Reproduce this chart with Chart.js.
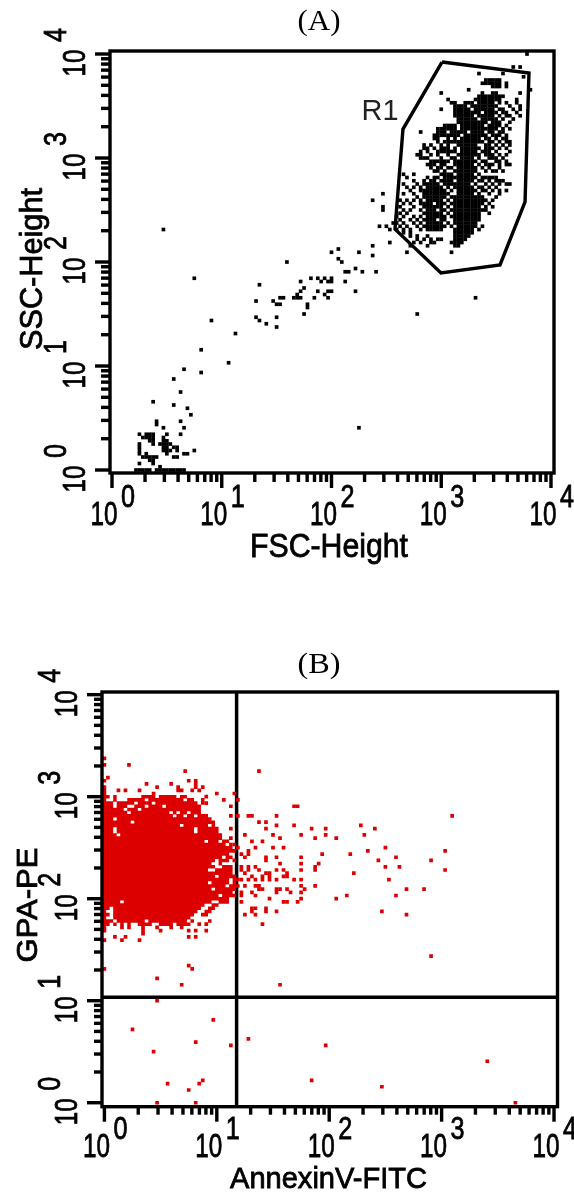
<!DOCTYPE html>
<html>
<head>
<meta charset="utf-8">
<title>Flow cytometry dot plots</title>
<script src="https://cdn.jsdelivr.net/npm/chart.js@4"></script>
<style>
    html, body { margin: 0; padding: 0; background: #fff; }
    body { position: relative; width: 574px; height: 1194px; overflow: hidden; }
    canvas { position: absolute; left: 0; }
    #plotA { top: 0; }
    #plotB { top: 590px; }
</style>
</head>
<body>
<canvas id="plotA" width="574" height="590"></canvas>
<canvas id="plotB" width="574" height="604"></canvas>
<script>
// Tick values shared by both plots
const decades = [1, 10, 100, 1000, 10000];
const exponents = ['0', '1', '2', '3', '4'];
const minorTicks = [2, 3, 4, 5, 6, 7, 8, 9, 20, 30, 40, 50, 60, 70, 80, 90, 200, 300, 400, 500, 600, 700, 800, 900, 2000, 3000, 4000, 5000, 6000, 7000, 8000, 9000];

// The dots sit on the instrument's channel grid: 32 channels per decade
const toValue = ch => Math.pow(10, ch / 32);

// (A) main cluster, one row per SSC channel: [ssc, [fsc, fsc, ...]]
const clusterRowsA = [
    [128, [121]], [124, [117, 119]], [122, [107, 114]], [121, [120]],
    [120, [109, 110, 111, 112, 113]], [119, [108, 109, 110, 111, 112, 113, 115]], [118, [111, 112, 113, 115]],
    [117, [104, 122]], [116, [96, 108, 111, 112, 119]],
    [115, [107, 108, 109, 110, 111, 112, 113, 114]], [114, [98, 106, 107, 108, 109, 110, 111, 112, 113, 118]],
    [113, [99, 100, 103, 104, 105, 107, 108, 109, 110, 111, 113, 115, 118]],
    [112, [100, 101, 102, 103, 105, 106, 107, 108, 109, 110, 111, 112, 116, 119]],
    [111, [96, 100, 101, 102, 103, 104, 106, 107, 108, 109, 110, 111, 113, 114, 117, 119]],
    [110, [100, 101, 102, 103, 104, 105, 106, 107, 109, 110, 111, 112, 114, 115, 118]],
    [109, [100, 101, 102, 103, 104, 105, 107, 108, 109, 110, 111, 113, 115, 116, 119]],
    [108, [101, 102, 103, 104, 105, 106, 108, 109, 110, 111, 112, 114, 117]],
    [107, [101, 102, 103, 104, 105, 106, 107, 108, 109, 111, 112, 113, 116]],
    [106, [97, 98, 99, 100, 102, 103, 104, 105, 106, 107, 108, 110, 111, 112, 113, 115]],
    [105, [95, 96, 97, 98, 99, 100, 102, 103, 104, 105, 106, 107, 108, 109, 110, 111, 112, 114, 116]],
    [104, [90, 95, 96, 97, 99, 100, 101, 102, 103, 105, 106, 107, 108, 110, 111, 113, 114]],
    [103, [94, 95, 96, 97, 98, 99, 100, 101, 103, 104, 105, 106, 107, 108, 109, 111, 112, 113, 115]],
    [102, [94, 95, 98, 100, 102, 103, 104, 105, 106, 107, 109, 110, 112, 114, 115]],
    [101, [95, 97, 98, 99, 100, 101, 102, 103, 104, 105, 106, 107, 108, 110, 111, 113, 115, 116]],
    [100, [91, 93, 96, 98, 101, 102, 103, 104, 105, 106, 109, 110, 112, 114, 116]],
    [99, [91, 92, 94, 96, 97, 98, 100, 102, 103, 104, 105, 106, 107, 109, 110, 111, 113, 115]],
    [98, [90, 92, 95, 96, 97, 98, 99, 100, 102, 103, 104, 105, 106, 108, 109, 110, 112, 116]],
    [97, [89, 90, 93, 95, 98, 101, 102, 103, 104, 105, 106, 107, 109, 110, 111, 113, 115]],
    [96, [90, 91, 92, 96, 99, 100, 102, 103, 104, 105, 107, 110, 111, 112, 114]],
    [95, [93, 94, 95, 96, 97, 98, 100, 101, 102, 103, 104, 105, 106, 108, 109, 112, 113, 115]],
    [94, [92, 93, 94, 96, 97, 100, 101, 102, 103, 104, 105, 107, 109, 110, 111, 113, 115, 116]],
    [93, [93, 95, 96, 98, 99, 101, 102, 103, 104, 105, 106, 108, 110, 113]],
    [92, [94, 95, 97, 100, 101, 102, 103, 104, 105, 106, 109, 111, 112, 114]],
    [91, [85, 88, 96, 97, 98, 99, 101, 102, 103, 104, 105, 107]],
    [90, [86, 92, 94, 95, 97, 98, 99, 100, 101, 102, 103, 104, 105, 106, 108, 109, 110, 111, 112]],
    [89, [88, 91, 93, 94, 96, 97, 98, 99, 101, 102, 103, 104, 105, 107, 108, 110, 112, 113, 114]],
    [88, [85, 89, 91, 92, 93, 94, 95, 97, 98, 99, 100, 101, 102, 103, 104, 106, 109, 111, 113, 115, 116]],
    [87, [86, 88, 90, 92, 93, 94, 95, 96, 98, 100, 101, 102, 103, 104, 105, 107, 108, 110, 112]],
    [86, [87, 90, 91, 92, 93, 94, 95, 96, 97, 99, 101, 102, 103, 104, 105, 106, 108, 109, 111, 113, 115]],
    [85, [85, 88, 91, 92, 93, 94, 95, 96, 97, 98, 101, 102, 103, 104, 105, 107, 110, 113]],
    [84, [89, 91, 92, 93, 94, 95, 96, 97, 99, 100, 101, 102, 103, 104, 105, 106, 107, 108, 112]],
    [83, [84, 86, 88, 90, 92, 93, 94, 95, 96, 98, 100, 101, 102, 103, 104, 105, 106, 107, 108, 109, 111]],
    [82, [85, 87, 90, 91, 92, 93, 95, 96, 97, 99, 100, 101, 102, 103, 104, 105, 106, 107, 108, 110]],
    [81, [84, 88, 91, 92, 93, 94, 95, 96, 98, 100, 101, 102, 103, 104, 105, 106, 107, 109, 111]],
    [80, [85, 87, 90, 92, 93, 94, 96, 97, 99, 100, 101, 102, 103, 104, 105, 106, 107, 108, 109]],
    [79, [84, 86, 91, 92, 93, 94, 95, 96, 98, 100, 101, 102, 103, 104, 105, 106, 107, 110]],
    [78, [83, 85, 88, 90, 92, 93, 94, 95, 96, 97, 99, 100, 101, 102, 103, 104, 105, 106, 107]],
    [77, [84, 87, 89, 91, 92, 93, 94, 96, 97, 100, 101, 102, 103, 104, 105, 106, 107]],
    [76, [83, 85, 88, 90, 92, 93, 94, 95, 96, 98, 100, 101, 102, 103, 104, 105, 106]],
    [75, [84, 86, 89, 91, 92, 93, 94, 95, 96, 97, 99, 101, 102, 103, 104, 105, 106, 108]],
    [74, [83, 85, 87, 90, 92, 93, 94, 95, 96, 100, 101, 102, 103, 104, 105, 107]],
    [73, [85, 87, 100, 101, 102, 103, 104, 105]],
    [72, [87, 89, 92, 100, 101, 102, 103, 104]],
    [71, [89, 91, 93, 95, 96, 100, 101, 102, 103]],
    [70, [88, 90, 93, 94, 99, 100, 101, 102]],
    [69, [87, 92, 100, 101]]
];

// (A) scattered events outside the cluster: [fsc, ssc]
const sparseA = [
    [79, 85], [76, 83], [79, 81], [79, 80], [78, 75], [80, 75], [81, 74], [82, 76], [81, 70], [76, 69],
    [86, 67], [99, 67], [15, 74], [24, 59], [43, 57], [51, 64], [66, 68], [64, 67], [72, 67], [76, 66],
    [66, 65], [67, 64], [71, 62], [69, 61], [68, 61], [73, 61], [77, 61], [58, 59], [60, 59], [62, 59],
    [64, 59], [55, 58], [61, 58], [63, 58], [64, 58], [68, 58], [56, 56], [63, 55], [60, 55], [71, 55],
    [106, 53], [89, 48], [64, 55], [62, 54], [63, 53], [59, 53], [57, 51], [57, 50], [56, 48], [53, 53],
    [54, 53], [55, 53], [54, 54], [55, 55], [49, 53], [50, 53], [48, 51], [49, 51], [47, 52], [48, 47],
    [48, 44], [42, 52], [42, 47], [43, 46], [45, 45], [29, 46], [36, 42], [26, 37], [34, 33], [21, 31],
    [26, 30], [18, 28], [20, 24], [12, 21], [18, 20], [22, 19], [23, 17], [13, 14], [13, 15], [15, 13],
    [20, 15], [21, 13], [72, 13],
    [8, 11], [10, 11], [11, 11], [12, 11], [16, 11], [20, 11], [9, 10], [10, 10], [11, 10], [12, 10],
    [15, 10], [11, 9], [12, 9], [15, 9], [16, 9], [8, 8], [12, 8], [14, 8], [15, 8], [16, 8], [17, 8],
    [8, 7], [15, 7], [16, 7], [18, 7], [19, 7], [8, 6], [15, 6], [16, 6], [17, 6], [19, 6], [24, 6],
    [8, 5], [10, 5], [16, 5], [22, 5], [9, 4], [10, 4], [11, 4], [12, 4], [13, 4], [18, 4], [19, 4],
    [21, 5], [11, 3], [12, 3], [8, 2], [12, 2], [14, 1],
    [7, 0], [8, 0], [9, 0], [10, 0], [11, 0], [13, 0], [14, 0], [15, 0], [16, 0], [17, 0], [18, 0], [19, 0], [20, 0], [21, 0]
];

// (A) R1 gate corners
const gateX = [1016, 6300, 5800, 3430, 995, 379, 448, 1016];
const gateY = [8375, 6565, 378, 93.6, 78.4, 207, 1900, 8375];

// (B) solid body of the population, runs of filled channels per row: [pe, [from, to, from, to, ...]]
const bodyRowsB = [
    [96, [0, 1, 3, 3, 11, 14, 16, 20, 22, 23]],
    [95, [0, 0, 3, 3, 7, 11, 13, 14, 15, 20, 21, 22, 24, 25, 28, 28]],
    [94, [0, 2, 4, 8, 10, 13, 15, 19, 20, 26, 28, 28]],
    [93, [0, 2, 4, 6, 9, 11, 13, 16, 18, 27]],
    [92, [0, 5, 7, 9, 11, 27]],
    [91, [0, 6, 8, 18, 20, 20, 22, 23, 25, 27]],
    [90, [0, 19, 21, 22, 24, 25, 27, 29]],
    [89, [0, 2, 4, 30]],
    [88, [0, 7, 9, 31]],
    [87, [0, 21, 23, 29, 31, 31]],
    [86, [0, 2, 4, 25, 27, 32]],
    [85, [0, 2, 4, 25, 27, 32]],
    [84, [0, 3, 5, 33]],
    [83, [0, 33]],
    [82, [0, 28, 30, 32, 34, 35]],
    [81, [0, 34, 36, 36]],
    [80, [0, 36]],
    [79, [0, 37]],
    [78, [0, 35]],
    [77, [0, 33, 35, 36]],
    [76, [0, 31, 33, 35]],
    [75, [0, 30, 33, 33]],
    [74, [0, 31, 34, 36]],
    [73, [0, 29, 32, 36]],
    [72, [0, 36]],
    [71, [0, 31, 33, 37]],
    [70, [0, 35, 37, 38]],
    [69, [0, 29, 31, 35, 37, 37]],
    [68, [0, 34, 36, 38]],
    [67, [0, 30, 32, 37]],
    [66, [0, 36]],
    [65, [0, 32, 34, 37]],
    [64, [0, 35]],
    [63, [0, 4, 6, 30, 33, 35]],
    [62, [0, 28, 31, 32]],
    [61, [0, 1, 3, 27, 30, 31]],
    [60, [0, 0, 3, 26, 29, 30]],
    [59, [0, 1, 3, 25, 28, 29]],
    [58, [0, 0, 3, 24]],
    [57, [0, 2, 4, 11, 13, 14, 15, 23, 25, 25, 30, 30]],
    [56, [0, 1, 3, 3, 5, 5, 7, 7, 10, 13, 16, 19, 21, 24]]
];

// (B) single events around the body: [annexin, pe]
const sparseB = [
    [0, 108], [0, 106], [7, 106], [23, 104], [44, 104], [1, 102], [0, 101], [24, 101], [26, 101], [26, 100],
    [12, 100], [19, 100], [15, 99], [21, 99], [28, 99], [26, 99], [25, 98], [4, 98], [6, 98], [10, 98],
    [21, 98], [22, 98], [27, 98], [32, 97], [37, 97], [14, 97], [0, 99], [0, 98], [0, 97], [38, 95], [34, 95],
    [29, 96], [29, 94], [36, 93], [54, 93], [55, 93], [36, 90], [38, 90], [41, 90], [42, 90], [49, 90], [99, 90],
    [44, 88], [46, 88], [49, 87], [54, 87], [73, 87], [36, 86], [46, 86], [59, 86], [63, 86], [77, 86],
    [40, 84], [48, 84], [56, 84], [63, 84], [74, 84], [36, 83], [50, 83], [60, 83], [66, 83], [42, 82], [45, 82],
    [38, 80], [43, 80], [48, 80], [51, 80], [80, 80], [37, 81], [41, 79], [75, 79], [97, 79], [39, 78], [41, 78],
    [62, 78], [70, 78], [40, 77], [46, 77], [49, 77], [56, 77], [83, 77], [46, 76], [37, 76], [78, 76], [93, 76],
    [50, 75], [56, 75], [61, 75], [39, 74], [41, 74], [43, 74], [60, 74], [80, 74], [84, 74],
    [39, 73], [41, 73], [44, 73], [49, 73], [51, 73], [56, 73], [60, 73], [97, 73],
    [40, 72], [46, 72], [47, 72], [52, 72], [71, 72], [42, 71], [45, 71], [47, 71], [51, 71], [52, 71],
    [39, 70], [41, 70], [43, 70], [45, 70], [47, 70], [49, 70], [54, 70], [56, 70], [81, 70],
    [40, 68], [43, 68], [44, 68], [56, 68], [60, 68], [44, 67], [45, 67], [49, 67], [50, 67], [52, 67], [57, 67], [86, 67], [91, 67],
    [39, 66], [42, 66], [49, 66], [53, 66], [56, 66], [39, 65], [43, 65], [69, 65], [83, 65],
    [47, 64], [56, 64], [66, 64], [39, 63], [51, 63], [52, 63], [55, 63], [42, 61], [43, 61], [46, 61],
    [42, 60], [46, 60], [49, 60], [79, 60], [40, 59], [43, 59], [86, 59], [45, 56],
    [0, 55], [5, 55], [7, 55], [11, 55], [15, 55], [19, 55], [22, 55], [27, 56], [29, 56],
    [0, 54], [11, 54], [16, 54], [24, 54], [26, 54], [29, 54], [11, 53], [3, 52], [6, 52], [24, 52], [26, 52],
    [0, 51], [5, 51], [10, 51], [0, 42], [24, 43], [25, 42], [15, 39], [22, 37], [50, 37], [93, 46],
    [15, 32], [31, 26], [8, 23], [26, 19], [36, 18], [41, 20], [63, 18], [14, 16], [109, 13],
    [28, 7], [27, 6], [18, 6], [24, 4], [59, 7], [79, 5], [117, 0], [15, 0], [26, 0]
];

// (B) quadrant markers
const markerX = [15];
const markerY = [10.8];

// Build chart points from the rows above
function cellsFromRows(rows) {
    const points = [];
    rows.forEach(([row, cols]) => {
        cols.forEach(col => points.push({ x: toValue(col), y: toValue(row) }));
    });
    return points;
}

function pointsFromPairs(pairs) {
    return pairs.map(([col, row]) => ({ x: toValue(col), y: toValue(row) }));
}

// A line with gaps, one stretch per run of filled channels
function runsFromRows(rows) {
    const points = [];
    rows.forEach(([row, runs]) => {
        for (let i = 0; i < runs.length; i += 2) {
            points.push({ x: toValue(runs[i] - 0.5), y: toValue(row) });
            points.push({ x: toValue(runs[i + 1] + 0.5), y: toValue(row) });
            points.push({ x: null, y: null });
        }
    });
    return points;
}

// Draws text centred on x with its baseline on y, squeezed to a given width
function fitText(ctx, text, x, y, size, width, vertical, family) {
    ctx.save();
    ctx.translate(x, y);
    if (vertical) ctx.rotate(-Math.PI / 2);
    ctx.font = size + 'px ' + (family || '"Liberation Sans"');
    ctx.textAlign = 'center';
    ctx.textBaseline = 'alphabetic';
    const measured = ctx.measureText(text).width;
    ctx.scale(width / measured, 1);
    ctx.fillText(text, 0, 0);
    // the axis lettering is a heavy bitmap face in the original
    if (!family) {
        ctx.lineWidth = 0.8;
        ctx.strokeText(text, 0, 0);
    }
    ctx.restore();
}

// Frame, ticks, labels and titles, placed from the chart's own scales
const axesPlugin = {
    id: 'axesPlugin',
    afterDatasetsDraw(chart, args, opts) {
        const { ctx, chartArea: area, scales: { x, y } } = chart;
        ctx.save();
        ctx.fillStyle = '#000';
        ctx.strokeStyle = '#000';
        ctx.lineWidth = 3.4;
        ctx.strokeRect(area.left, area.top, area.right - area.left, area.bottom - area.top);

        minorTicks.forEach(v => {
            ctx.fillRect(x.getPixelForValue(v) - 1.7, area.bottom, 3.4, opts.minorLen);
            ctx.fillRect(area.left - opts.minorLen, y.getPixelForValue(v) - 1.7, opts.minorLen, 3.4);
        });
        decades.forEach((v, i) => {
            const px = x.getPixelForValue(v);
            const py = y.getPixelForValue(v);
            ctx.fillRect(px - 1.7, area.bottom, 3.4, opts.majorLen);
            ctx.fillRect(area.left - opts.majorLen, py - 1.7, opts.majorLen, 3.4);

            fitText(ctx, '10', px - 8, opts.xBase, 34, 27);
            fitText(ctx, exponents[i], px + 16, opts.xExpBase, 32, 14);
            fitText(ctx, '10', opts.yBase, py + 9, 32, 27, true);
            fitText(ctx, exponents[i], opts.yExpBase, py - 19, 31, 14, true);
        });

        fitText(ctx, opts.xTitle, opts.xTitleX, opts.xTitleBase, opts.xTitleSize, opts.xTitleWidth);
        fitText(ctx, opts.yTitle, opts.yTitleBase, opts.yTitleY, opts.yTitleSize, opts.yTitleWidth, true);
        fitText(ctx, opts.heading, 319, opts.headingBase, 30, 43, false, '"Liberation Serif"');
        if (opts.gateLabel) {
            ctx.fillStyle = '#222';
            fitText(ctx, opts.gateLabel, 380, 120, 30, 37, false, '"Liberation Sans"');
        }
        ctx.restore();
    }
};

// Render Plot (A)
const chartA = new Chart(document.getElementById('plotA').getContext('2d'), {
    type: 'scatter',
    plugins: [axesPlugin],
    data: {
        datasets: [
            {
                label: 'Events',
                data: cellsFromRows(clusterRowsA).concat(pointsFromPairs(sparseA)),
                pointStyle: 'rect',
                pointRadius: 2.6,
                pointBorderWidth: 0,
                backgroundColor: '#000'
            },
            {
                label: 'R1',
                data: gateX.map((v, i) => ({ x: v, y: gateY[i] })),
                showLine: true,
                pointRadius: 0,
                borderColor: '#000',
                borderWidth: 3.4
            }
        ]
    },
    options: {
        responsive: false,
        animation: false,
        layout: { padding: { left: 110, right: 20, top: 51, bottom: 117 } },
        scales: {
            x: { type: 'logarithmic', display: false, min: 0.959, max: 10650 },
            y: { type: 'logarithmic', display: false, min: 0.936, max: 10690 }
        },
        plugins: {
            legend: { display: false },
            tooltip: { enabled: false },
            axesPlugin: {
                minorLen: 9, majorLen: 15,
                xBase: 525, xExpBase: 507, yBase: 84.5, yExpBase: 66,
                xTitle: 'FSC-Height', xTitleX: 329, xTitleBase: 557, xTitleSize: 33, xTitleWidth: 158,
                yTitle: 'SSC-Height', yTitleBase: 42, yTitleY: 269, yTitleSize: 32, yTitleWidth: 162,
                heading: '(A)', headingBase: 30,
                gateLabel: 'R1'
            }
        }
    }
});

// Render Plot (B)
const chartB = new Chart(document.getElementById('plotB').getContext('2d'), {
    type: 'scatter',
    plugins: [axesPlugin],
    data: {
        datasets: [
            {
                label: 'Body',
                data: runsFromRows(bodyRowsB),
                showLine: true,
                spanGaps: false,
                pointRadius: 0,
                borderColor: '#dc0000',
                borderWidth: 3.6
            },
            {
                label: 'Events',
                data: pointsFromPairs(sparseB),
                pointStyle: 'rect',
                pointRadius: 2.6,
                pointBorderWidth: 0,
                backgroundColor: '#dc0000'
            },
            {
                label: 'Vertical marker',
                data: [{ x: markerX[0], y: 0.914 }, { x: markerX[0], y: 10620 }],
                showLine: true,
                pointRadius: 0,
                borderColor: '#000',
                borderWidth: 3.5
            },
            {
                label: 'Horizontal marker',
                data: [{ x: 0.952, y: markerY[0] }, { x: 10740, y: markerY[0] }],
                showLine: true,
                pointRadius: 0,
                borderColor: '#000',
                borderWidth: 3.5
            }
        ]
    },
    options: {
        responsive: false,
        animation: false,
        layout: { padding: { left: 102, right: 16.5, top: 102, bottom: 87.3 } },
        scales: {
            x: { type: 'logarithmic', display: false, min: 0.952, max: 10740 },
            y: { type: 'logarithmic', display: false, min: 0.914, max: 10620 }
        },
        plugins: {
            legend: { display: false },
            tooltip: { enabled: false },
            axesPlugin: {
                minorLen: 8, majorLen: 15,
                xBase: 567, xExpBase: 549, yBase: 77, yExpBase: 60,
                xTitle: 'AnnexinV-FITC', xTitleX: 328.5, xTitleBase: 598, xTitleSize: 30, xTitleWidth: 197,
                yTitle: 'GPA-PE', yTitleBase: 37, yTitleY: 315, yTitleSize: 29, yTitleWidth: 115,
                heading: '(B)', headingBase: 83
            }
        }
    }
});
</script>
</body>
</html>
